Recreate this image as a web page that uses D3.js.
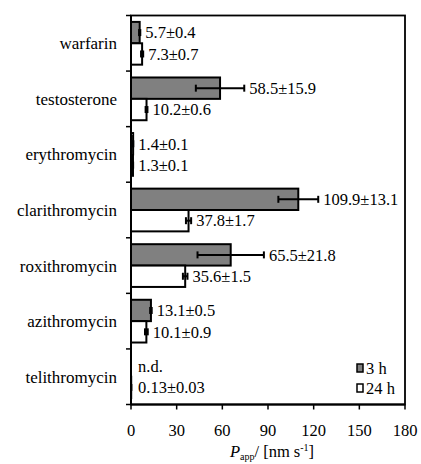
<!DOCTYPE html>
<html><head><meta charset="utf-8">
<script src="https://cdn.jsdelivr.net/npm/d3@7"></script>
<style>body{margin:0;background:#fff}svg{display:block}text{font-family:"Liberation Serif","Times New Roman",serif;fill:#000}</style>
</head><body>
<script>
const categories = ["warfarin","testosterone","erythromycin","clarithromycin","roxithromycin","azithromycin","telithromycin"];
const series = ["3 h","24 h"];
const values3h = [5.7, 58.5, 1.4, 109.9, 65.5, 13.1, null];
const errors3h = [0.4, 15.9, 0.1, 13.1, 21.8, 0.5, null];
const labels3h = ["5.7\u00b10.4","58.5\u00b115.9","1.4\u00b10.1","109.9\u00b113.1","65.5\u00b121.8","13.1\u00b10.5","n.d."];
const values24h = [7.3, 10.2, 1.3, 37.8, 35.6, 10.1, 0.13];
const errors24h = [0.7, 0.6, 0.1, 1.7, 1.5, 0.9, 0.03];
const labels24h = ["7.3\u00b10.7","10.2\u00b10.6","1.3\u00b10.1","37.8\u00b11.7","35.6\u00b11.5","10.1\u00b10.9","0.13\u00b10.03"];
const xTicks = [0,30,60,90,120,150,180];
const colors = ["#808080","#ffffff"];

const W=421,H=464;
const svg=d3.select("body").append("svg").attr("width",W).attr("height",H)
  .attr("font-family","'Liberation Serif','Times New Roman',serif");
const L=131,R=405,T=15.5,B=404.5;
const FS=16.5;
const x=d3.scaleLinear().domain([0,180]).range([L,R]);
const y=d3.scaleBand().domain(categories).range([T,B]).padding(0);
const ys=d3.scaleBand().domain(series).range([0,y.bandwidth()]).paddingInner(0).paddingOuter(0.3);

// frame
svg.append("rect").attr("x",L).attr("y",T).attr("width",R-L).attr("height",B-T)
  .attr("fill","none").attr("stroke","#000").attr("stroke-width",1.8);

const rows=categories.map((c,i)=>[
  {c,s:"3 h",v:values3h[i],e:errors3h[i],lab:labels3h[i],col:colors[0]},
  {c,s:"24 h",v:values24h[i],e:errors24h[i],lab:labels24h[i],col:colors[1]}
]).flat();

const g=svg.append("g");
rows.filter(d=>d.v!=null).forEach(d=>{
  const y0=y(d.c)+ys(d.s), h=ys.bandwidth();
  g.append("rect").attr("x",x(0)).attr("y",y0).attr("width",Math.max(0,x(d.v)-x(0))).attr("height",h)
    .attr("fill",d.col).attr("stroke","#000").attr("stroke-width",2);
});
// error bars
rows.filter(d=>d.v!=null).forEach(d=>{
  const yc=y(d.c)+ys(d.s)+ys.bandwidth()/2;
  const x1=x(d.v-d.e), x2=x(d.v+d.e);
  g.append("line").attr("x1",x1).attr("x2",x2).attr("y1",yc).attr("y2",yc).attr("stroke","#000").attr("stroke-width",2);
  [x1,x2].forEach(xx=>g.append("line").attr("x1",xx).attr("x2",xx).attr("y1",yc-3.5).attr("y2",yc+3.5).attr("stroke","#000").attr("stroke-width",2));
});
// value labels
rows.forEach(d=>{
  const yc=y(d.c)+ys(d.s)+ys.bandwidth()/2;
  const xe = d.v==null ? x(0)+7 : Math.max(x(d.v+d.e)+5, x(0)+7);
  g.append("text").attr("x",xe).attr("y",yc).attr("dy","0.35em").attr("font-size",FS).text(d.lab);
});

// left axis
const ya=svg.append("g").attr("transform",`translate(${L},0)`);
ya.append("line").attr("x1",0).attr("x2",0).attr("y1",T).attr("y2",B).attr("stroke","#000").attr("stroke-width",2);
const bounds=categories.map(c=>y(c)).concat([B]);
bounds.forEach(v=>ya.append("line").attr("x1",-5).attr("x2",0).attr("y1",v).attr("y2",v).attr("stroke","#000").attr("stroke-width",1.5));
categories.forEach(c=>ya.append("text").attr("x",-14).attr("y",y(c)+y.bandwidth()/2).attr("dy","0.35em")
  .attr("text-anchor","end").attr("font-size",17).text(c));

// bottom axis
const xa=svg.append("g").attr("transform",`translate(0,${B})`);
xa.append("line").attr("x1",L).attr("x2",R).attr("stroke","#000").attr("stroke-width",2);
xTicks.forEach(t=>{
  xa.append("line").attr("x1",x(t)).attr("x2",x(t)).attr("y1",0).attr("y2",5).attr("stroke","#000").attr("stroke-width",1.5);
  xa.append("text").attr("x",x(t)).attr("y",31).attr("text-anchor","middle").attr("font-size",FS).text(t);
});
const title=svg.append("text").attr("x",272).attr("y",457).attr("text-anchor","middle").attr("font-size",FS);
title.append("tspan").attr("font-style","italic").text("P");
title.append("tspan").attr("font-size",10).attr("dy",3).text("app");
title.append("tspan").attr("dy",-3).text("/ [nm s");
title.append("tspan").attr("font-size",10).attr("dy",-6).text("-1");
title.append("tspan").attr("dy",6).text("]");

// legend
series.forEach((s,i)=>{
  const ly=368+i*20;
  svg.append("rect").attr("x",357).attr("y",ly-4).attr("width",6).attr("height",8)
    .attr("fill",colors[i]).attr("stroke","#000").attr("stroke-width",1.5);
  svg.append("text").attr("x",366).attr("y",ly).attr("dy","0.35em").attr("font-size",FS).text(s);
});
</script>
</body></html>
